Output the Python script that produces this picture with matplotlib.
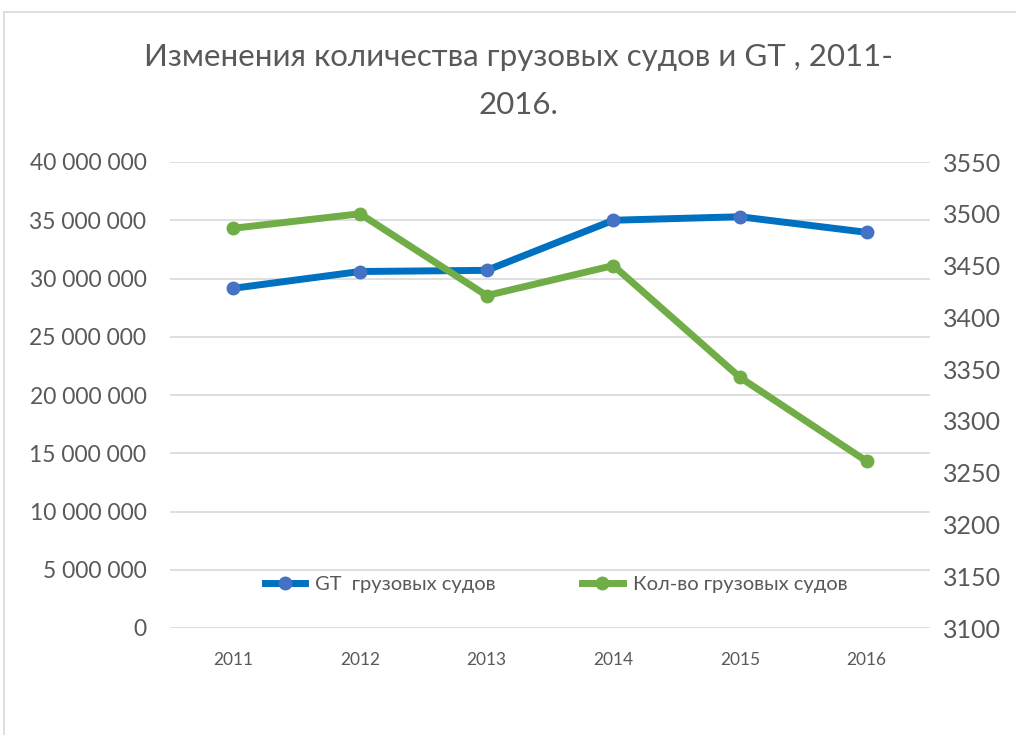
import matplotlib
matplotlib.use("Agg")
import matplotlib.pyplot as plt
from matplotlib.patches import Rectangle
from matplotlib.ticker import FuncFormatter, MultipleLocator

plt.rcParams['font.family'] = ['Lato', 'DejaVu Sans']

years = ['2011', '2012', '2013', '2014', '2015', '2016']
gt_values = [29160000, 30600000, 30700000, 35000000, 35300000, 33960000]
ship_counts = [3486, 3500, 3421, 3450, 3342, 3261]
title_line1 = 'Изменения количества грузовых судов и GT , 2011-'
title_line2 = '2016.'
label_gt = 'GT  грузовых судов'
label_cnt = 'Кол-во грузовых судов'

W, H = 1016, 735
fig = plt.figure(figsize=(W / 100, H / 100), dpi=100)
fig.patch.set_facecolor('white')
fig.add_artist(Rectangle((4 / W, -0.01), 1.02, 1 - 12 / H + 0.01, transform=fig.transFigure,
                         fill=False, edgecolor='#d9d9d9', linewidth=1.2))

ax = fig.add_axes([170 / W, 1 - 628 / H, 760 / W, 466 / H])
ax2 = ax.twinx()

x = range(len(years))
l1, = ax.plot(x, gt_values, color='#0070C0', linewidth=5, marker='o', markersize=9,
              markerfacecolor='#4472C4', markeredgecolor='#4472C4', label=label_gt, zorder=3)
l2, = ax2.plot(x, ship_counts, color='#70AD47', linewidth=5, marker='o', markersize=9,
               markerfacecolor='#70AD47', markeredgecolor='#70AD47', label=label_cnt, zorder=3)

ax.set_xlim(-0.5, 5.5)
ax.set_ylim(0, 40000000)
ax.yaxis.set_major_locator(MultipleLocator(5000000))
ax.yaxis.set_major_formatter(FuncFormatter(lambda v, p: f'{int(v):,}'.replace(',', ' ')))
ax2.set_ylim(3100, 3550)
ax2.yaxis.set_major_locator(MultipleLocator(50))

ax.set_xticks(list(x))
ax.set_xticklabels(years)
ax.grid(axis='y', color='#d9d9d9', linewidth=1.2)
ax.set_axisbelow(True)
for a in (ax, ax2):
    for s in a.spines.values():
        s.set_visible(False)
    a.tick_params(length=0)
ax.tick_params(axis='y', labelsize=16.5, labelcolor='#595959', pad=17)
ax.tick_params(axis='x', labelsize=12.5, labelcolor='#595959', pad=17)
ax2.tick_params(axis='y', labelsize=18, labelcolor='#595959', pad=9)

fig.text(518 / W, 1 - 57 / H, title_line1, ha='center', va='center', fontsize=22.5,
         color='#595959')
fig.text(518 / W, 1 - 105 / H, title_line2, ha='center', va='center', fontsize=22.5,
         color='#595959')

fig.legend(handles=[l1, l2], labels=[label_gt, label_cnt], loc='center',
           bbox_to_anchor=(556 / W, 1 - 584 / H), ncol=2, frameon=False, fontsize=14.5,
           labelcolor='#595959', handlelength=2.0, columnspacing=4.3, handletextpad=0.5)

fig.savefig('out.png', dpi=100)
